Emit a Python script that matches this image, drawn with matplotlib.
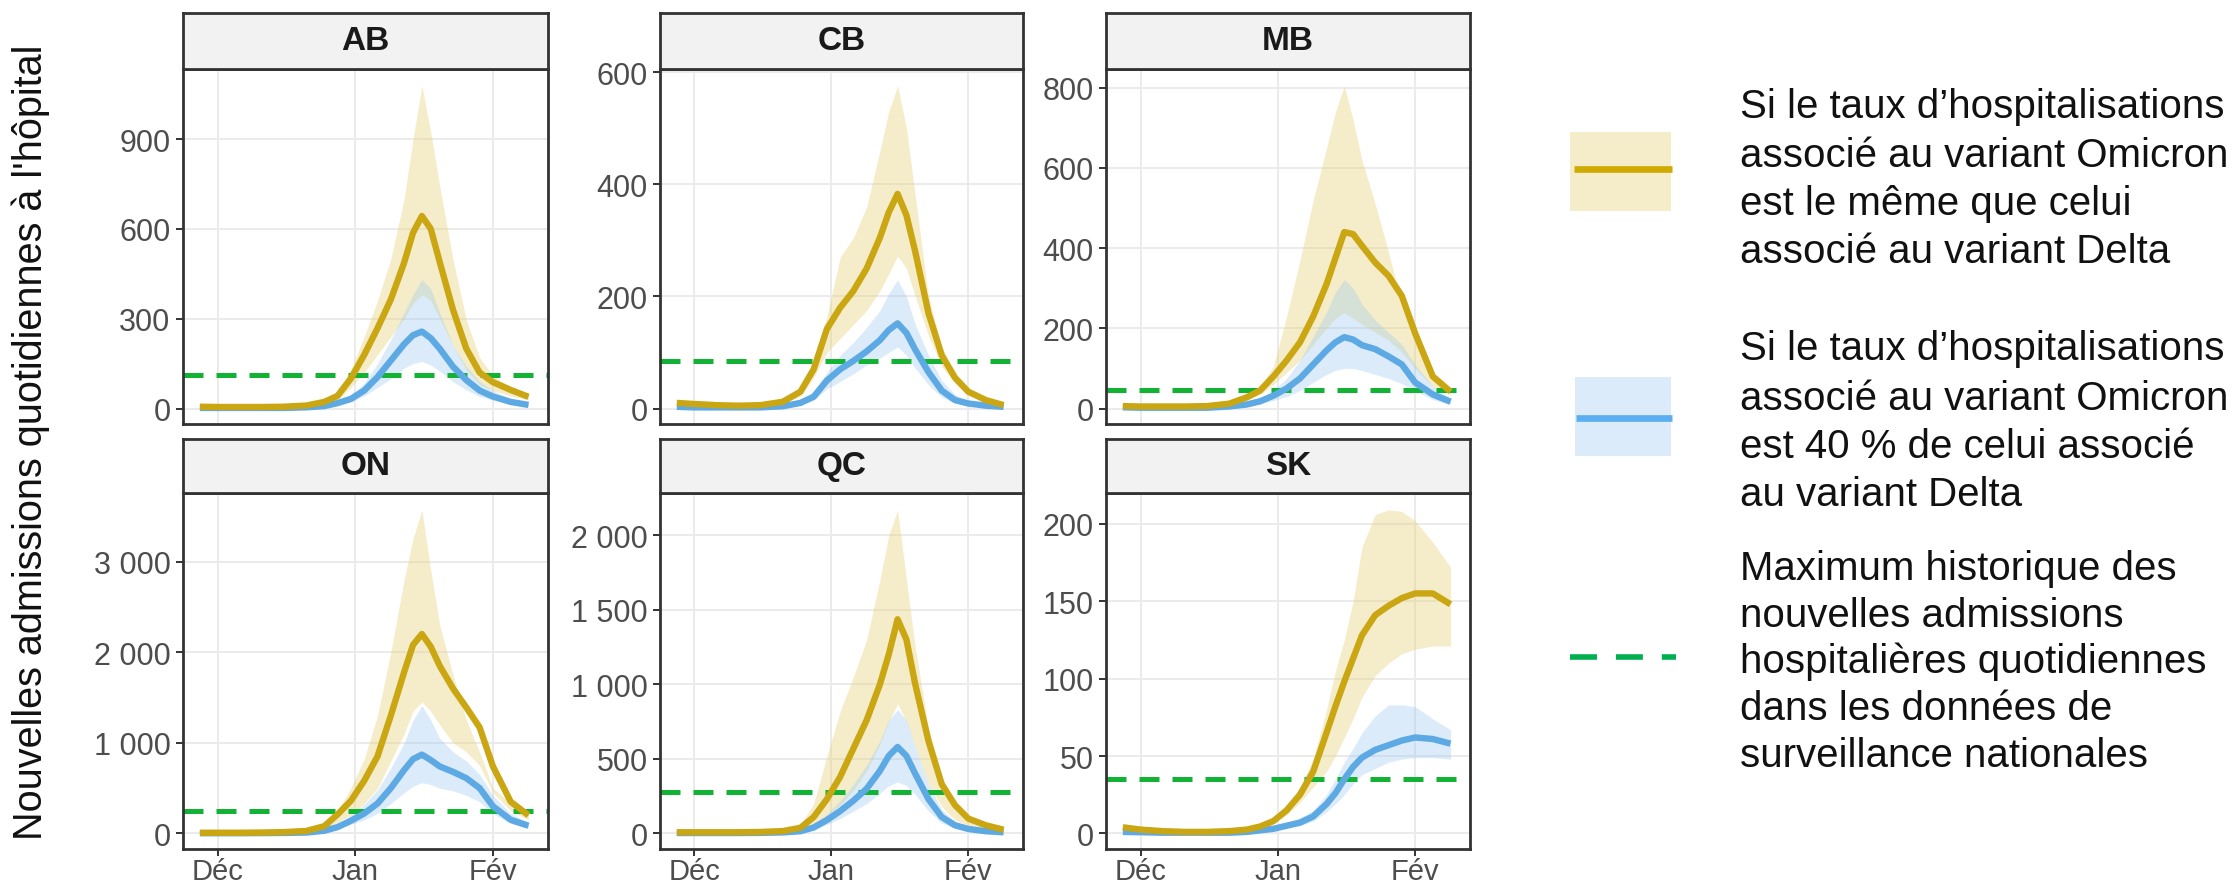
import matplotlib
matplotlib.use("Agg")
import matplotlib.pyplot as plt
from matplotlib.patches import Rectangle
from matplotlib.lines import Line2D
from matplotlib.ticker import FuncFormatter

plt.rcParams['font.family'] = ['Liberation Sans', 'DejaVu Sans']

# days counted from 1 Dec (Jan 1 = 31, Feb 1 = 62)
days = [-4, 0, 5, 10, 15, 20, 24, 27, 30, 33, 36, 39, 42, 44, 46, 48, 50, 53, 56, 59, 62, 66, 70]
month_ticks = [0, 31, 62]
month_labels = ["Déc", "Jan", "Fév"]

provinces = ["AB", "CB", "MB", "ON", "QC", "SK"]
historic_max = [112, 84, 46, 247, 275, 35]

# scenario 1: same hospitalisation rate as Delta (line, low, high)
ab_same = [6, 5, 5, 5, 6, 10, 22, 42, 100, 179, 268, 364, 487, 587, 643, 600, 490, 330, 200, 120, 88, 62, 39]
ab_same_lo = [4, 3, 3, 3, 4, 7, 15, 30, 70, 120, 180, 240, 300, 350, 380, 360, 300, 210, 130, 80, 60, 42, 30]
ab_same_hi = [8, 7, 7, 7, 8, 13, 30, 60, 130, 240, 360, 500, 700, 900, 1078, 923, 744, 498, 297, 170, 110, 70, 48]
cb_same = [10, 8, 6, 5, 6, 12, 30, 70, 142, 180, 210, 250, 305, 350, 383, 345, 280, 170, 95, 55, 30, 15, 6]
cb_same_lo = [8, 6, 4, 3, 4, 9, 22, 55, 100, 125, 150, 175, 210, 240, 272, 250, 200, 130, 75, 45, 25, 12, 5]
cb_same_hi = [12, 10, 8, 7, 8, 15, 38, 85, 165, 270, 305, 360, 460, 530, 576, 500, 380, 200, 110, 60, 32, 16, 7]
mb_same = [6, 5, 5, 5, 6, 12, 28, 45, 80, 120, 165, 230, 310, 375, 440, 435, 406, 364, 331, 281, 188, 80, 42]
mb_same_lo = [4, 3, 3, 3, 4, 9, 20, 35, 60, 90, 120, 160, 200, 225, 239, 225, 210, 190, 170, 140, 100, 55, 35]
mb_same_hi = [8, 7, 7, 7, 8, 15, 35, 55, 105, 230, 370, 520, 650, 740, 805, 720, 620, 510, 390, 260, 175, 90, 48]
on_same = [8, 8, 8, 10, 15, 28, 80, 210, 360, 580, 850, 1300, 1780, 2080, 2200, 2060, 1850, 1600, 1390, 1170, 740, 350, 200]
on_same_lo = [6, 6, 6, 8, 12, 22, 60, 120, 200, 330, 500, 800, 1100, 1350, 1450, 1350, 1200, 1000, 900, 750, 450, 250, 150]
on_same_hi = [10, 10, 10, 12, 18, 35, 100, 250, 500, 820, 1300, 2000, 2800, 3250, 3570, 2900, 2300, 1750, 1250, 900, 500, 330, 210]
qc_same = [8, 8, 8, 8, 10, 16, 38, 110, 230, 380, 570, 760, 1000, 1200, 1436, 1300, 1000, 620, 330, 190, 100, 55, 25]
qc_same_lo = [6, 6, 6, 6, 8, 12, 25, 60, 120, 190, 290, 420, 600, 750, 870, 750, 580, 330, 180, 90, 50, 28, 12]
qc_same_hi = [10, 10, 10, 10, 12, 20, 60, 200, 520, 820, 1050, 1300, 1700, 2000, 2170, 1700, 1250, 700, 380, 200, 110, 60, 28]
sk_same = [4, 2.5, 1.5, 1, 1, 1.5, 2.5, 4.5, 8, 15, 25, 40, 65, 82, 98, 113, 128, 141, 147, 152, 155, 155, 148]
sk_same_lo = [3, 2, 1, 0.5, 0.5, 1, 2, 3.5, 7, 12, 20, 30, 40, 50, 62, 74, 88, 102, 110, 116, 119, 121, 121]
sk_same_hi = [5, 3, 2, 1.5, 1.5, 2, 3, 5.5, 9, 18, 30, 48, 80, 105, 125, 150, 185, 206, 209, 208, 202, 188, 172]

# scenario 2: 40 % of Delta hospitalisation rate (line, low, high)
ab_40 = [2, 2, 2, 2, 2, 4, 8, 18, 32, 60, 105, 160, 215, 245, 257, 235, 200, 140, 95, 60, 40, 22, 12]
ab_40_lo = [1, 1, 1, 1, 1, 2, 5, 12, 22, 42, 70, 100, 135, 150, 157, 145, 125, 90, 62, 40, 28, 15, 8]
ab_40_hi = [3, 3, 3, 3, 3, 6, 12, 25, 45, 85, 150, 230, 320, 380, 431, 400, 320, 210, 140, 90, 60, 32, 18]
cb_40 = [3, 2, 2, 2, 2, 4, 10, 21, 50, 70, 85, 102, 122, 140, 152, 135, 105, 65, 32, 15, 9, 5, 3]
cb_40_lo = [2, 1, 1, 1, 1, 2, 6, 15, 35, 48, 62, 78, 90, 100, 110, 95, 72, 42, 20, 10, 6, 3, 2]
cb_40_hi = [4, 3, 3, 3, 3, 6, 14, 28, 65, 95, 118, 145, 175, 205, 230, 200, 150, 95, 50, 25, 13, 7, 4]
mb_40 = [3, 2, 2, 2, 2, 5, 10, 18, 32, 50, 75, 110, 145, 165, 178, 172, 158, 148, 130, 110, 65, 35, 17]
mb_40_lo = [2, 1, 1, 1, 1, 3, 6, 12, 20, 30, 45, 65, 85, 95, 100, 100, 95, 85, 75, 62, 45, 22, 10]
mb_40_hi = [4, 3, 3, 3, 3, 7, 14, 25, 45, 75, 120, 180, 240, 290, 322, 300, 260, 220, 190, 160, 110, 55, 25]
on_40 = [3, 3, 3, 4, 6, 10, 30, 70, 140, 220, 330, 500, 700, 820, 870, 810, 740, 680, 610, 500, 300, 150, 85]
on_40_lo = [2, 2, 2, 3, 4, 7, 20, 50, 100, 150, 220, 330, 450, 520, 560, 540, 500, 470, 420, 350, 220, 110, 60]
on_40_hi = [4, 4, 4, 5, 8, 14, 40, 100, 200, 320, 480, 720, 1000, 1250, 1411, 1250, 1050, 900, 800, 650, 420, 220, 120]
qc_40 = [3, 3, 3, 3, 4, 7, 15, 40, 90, 150, 220, 300, 420, 520, 580, 520, 400, 230, 110, 55, 30, 15, 8]
qc_40_lo = [2, 2, 2, 2, 3, 5, 10, 25, 60, 100, 150, 200, 270, 320, 345, 320, 260, 150, 70, 35, 20, 10, 5]
qc_40_hi = [4, 4, 4, 4, 5, 9, 22, 60, 130, 220, 330, 460, 620, 760, 830, 760, 580, 330, 160, 80, 40, 20, 10]
sk_40 = [1, 0.8, 0.5, 0.5, 0.5, 0.5, 1, 2, 3, 5, 7, 11, 19, 26, 35, 43, 49, 54, 57, 60, 62, 61, 58]
sk_40_lo = [0.5, 0.5, 0.3, 0.3, 0.3, 0.3, 0.5, 1.5, 2.5, 4, 5, 8, 14, 19, 25, 32, 38, 42, 46, 48, 49, 49, 48]
sk_40_hi = [1.5, 1, 0.8, 0.8, 0.8, 0.8, 1.5, 2.5, 4, 7, 10, 15, 25, 35, 46, 55, 65, 76, 83, 83, 82, 74, 67]

y_ticks = [[0, 300, 600, 900], [0, 200, 400, 600], [0, 200, 400, 600, 800],
           [0, 1000, 2000, 3000], [0, 500, 1000, 1500, 2000], [0, 50, 100, 150, 200]]

same = [(ab_same, ab_same_lo, ab_same_hi), (cb_same, cb_same_lo, cb_same_hi), (mb_same, mb_same_lo, mb_same_hi),
        (on_same, on_same_lo, on_same_hi), (qc_same, qc_same_lo, qc_same_hi), (sk_same, sk_same_lo, sk_same_hi)]
forty = [(ab_40, ab_40_lo, ab_40_hi), (cb_40, cb_40_lo, cb_40_hi), (mb_40, mb_40_lo, mb_40_hi),
         (on_40, on_40_lo, on_40_hi), (qc_40, qc_40_lo, qc_40_hi), (sk_40, sk_40_lo, sk_40_hi)]

legend_texts = [
    ["Si le taux d\u2019hospitalisations", "associé au variant Omicron", "est le même que celui", "associé au variant Delta"],
    ["Si le taux d\u2019hospitalisations", "associé au variant Omicron", "est 40 % de celui associé", "au variant Delta"],
    ["Maximum historique des", "nouvelles admissions", "hospitalières quotidiennes", "dans les données de", "surveillance nationales"],
]

# colours
YEL = '#C9A612'
YEL_FILL = '#E6D27A'
BLU = '#5DA9E3'
BLU_FILL = '#9CC8F0'
GRN = '#12B234'

W, H = 2235, 887
fig = plt.figure(figsize=(W / 100, H / 100), dpi=100)

def rect(x0, x1, ytop, ybot):
    return [x0 / W, 1 - ybot / H, (x1 - x0) / W, (ybot - ytop) / H]

cols = [(183, 548), (660, 1023), (1106, 1470)]
rows = [(14, 70, 425), (440, 494, 850)]  # strip top, panel top, panel bottom

fmt = FuncFormatter(lambda v, p: f"{int(v):,}".replace(",", "\u00a0"))

for i, prov in enumerate(provinces):
    r, c = divmod(i, 3)
    x0, x1 = cols[c]
    st, pt, pb = rows[r]
    ax = fig.add_axes(rect(x0, x1, pt, pb))
    sax = fig.add_axes(rect(x0, x1, st, pt))

    line_s, lo_s, hi_s = same[i]
    line_f, lo_f, hi_f = forty[i]
    ax.fill_between(days, lo_s, hi_s, color=YEL_FILL, alpha=0.4, lw=0)
    ax.fill_between(days, lo_f, hi_f, color=BLU_FILL, alpha=0.35, lw=0)
    ax.axhline(historic_max[i], color=GRN, lw=3.6, ls=(0, (4.0, 2.6)))
    ax.plot(days, line_f, color=BLU, lw=4.6, solid_joinstyle='round', solid_capstyle='butt')
    ax.plot(days, line_s, color=YEL, lw=4.6, solid_joinstyle='round', solid_capstyle='butt')

    top = max(hi_s)
    ax.set_ylim(-0.048 * top, 1.052 * top)
    ax.set_xlim(-7.8, 74.4)
    ax.set_yticks(y_ticks[i])
    ax.yaxis.set_major_formatter(fmt)
    ax.set_xticks(month_ticks)
    if r == 1:
        ax.set_xticklabels(month_labels)
    else:
        ax.set_xticklabels([])
        ax.tick_params(axis='x', length=0)
    ax.grid(True, color='#EBEBEB', lw=1.4)
    ax.set_axisbelow(True)
    ax.tick_params(axis='y', labelsize=22, labelcolor='#4D4D4D', color='#333333',
                   length=5, width=1.4, pad=4)
    ax.tick_params(axis='x', labelsize=21, labelcolor='#4D4D4D', color='#333333',
                   width=1.4, pad=0.5)
    if r == 1:
        ax.tick_params(axis='x', length=5)
    for s in ax.spines.values():
        s.set_color('#333333')
        s.set_linewidth(2)

    sax.set_facecolor('#F2F2F2')
    sax.set_xticks([])
    sax.set_yticks([])
    for s in sax.spines.values():
        s.set_color('#333333')
        s.set_linewidth(2)
    sax.text(0.5, 0.5, prov, ha='center', va='center', fontsize=24,
             fontweight='bold', color='#1A1A1A', transform=sax.transAxes)

fig.text(31 / W, 1 - 442 / H, "Nouvelles admissions quotidiennes à l'hôpital",
         rotation=90, ha='center', va='center', fontsize=28.5, color='#111111')

# legend keys
fig.add_artist(Rectangle((1570 / W, 1 - 212 / H), 101 / W, 79 / H, transform=fig.transFigure,
                         facecolor=YEL_FILL, alpha=0.4, lw=0))
fig.add_artist(Line2D([1574 / W, 1672 / W], [1 - 170 / H] * 2, transform=fig.transFigure,
                      color='#CFAA00', lw=4.8, solid_capstyle='butt'))
fig.add_artist(Rectangle((1575 / W, 1 - 457 / H), 96 / W, 79 / H, transform=fig.transFigure,
                         facecolor=BLU_FILL, alpha=0.35, lw=0))
fig.add_artist(Line2D([1576 / W, 1672 / W], [1 - 419 / H] * 2, transform=fig.transFigure,
                      color='#5BAEEF', lw=4.8, solid_capstyle='butt'))
fig.add_artist(Line2D([1570 / W, 1676 / W], [1 - 658 / H] * 2, transform=fig.transFigure,
                      color='#00B050', lw=4, ls=(0, (4.86, 3.4)), dash_capstyle='butt'))

baselines = [[118, 167, 215, 263], [360, 410, 458, 506], [580, 627, 673, 720, 767]]
for lines, ys in zip(legend_texts, baselines):
    for t, y in zip(lines, ys):
        fig.text(1740 / W, 1 - y / H, t, ha='left', va='baseline',
                 fontsize=29, color='#111111')

fig.savefig("out.png", dpi=100)
